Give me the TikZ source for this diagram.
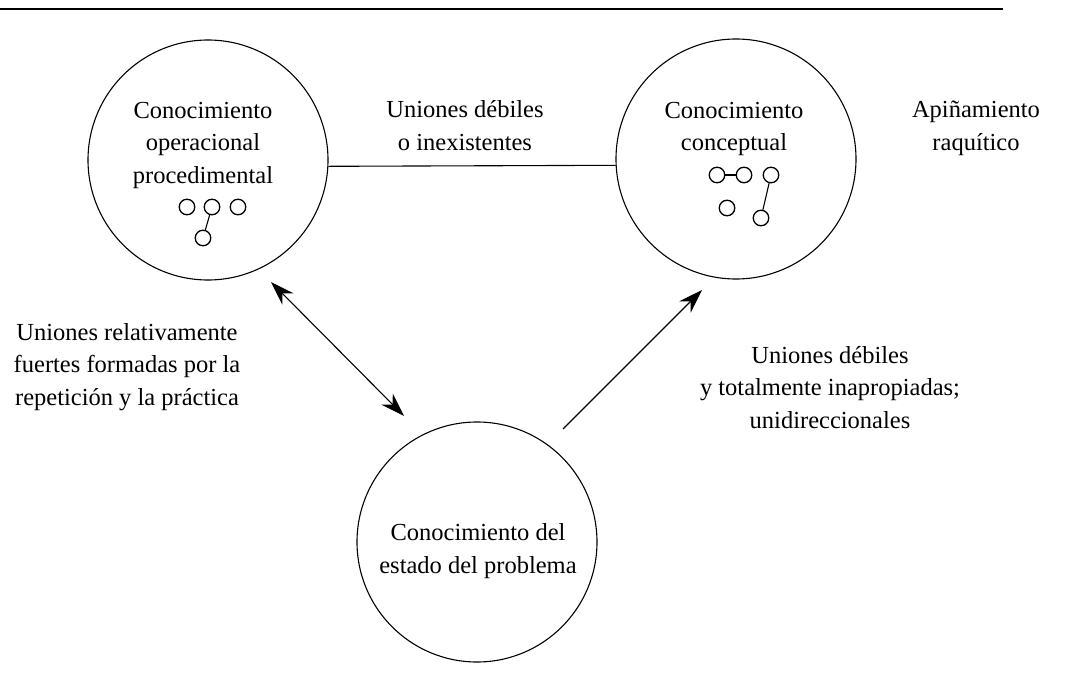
\documentclass[tikz,border=0pt]{standalone}
\usepackage{fontspec}
\setmainfont{Liberation Serif}
\usetikzlibrary{arrows.meta}
\begin{document}
\begin{tikzpicture}[x=1pt,y=-1pt,
  big/.style={circle,draw,line width=1.1pt,minimum size=240pt,inner sep=0pt},
  dot/.style={circle,draw,line width=1.3pt,minimum size=15.5pt,inner sep=0pt},
  lbl/.style={align=center,font=\fontsize{24.5}{32.5}\selectfont,inner sep=0pt,anchor=base},
  link/.style={line width=1.1pt},
  arr/.style={line width=1.1pt,-{Stealth[length=24pt,width=16pt,inset=8pt]}},
  darr/.style={line width=1.1pt,{Stealth[length=24pt,width=16pt,inset=8pt]}-{Stealth[length=24pt,width=16pt,inset=8pt]}}]
\useasboundingbox (0,0) rectangle (1066,690);
% top rule
\coordinate (r1) at (0,9);
\coordinate (r2) at (1003,9);
\draw[line width=2pt] (r1) -- (r2);
% big circles
\node[big] (cL) at (208,160) {};
\node[big] (cR) at (736,159) {};
\node[big] (cB) at (477,542) {};
% texts (base anchor = baseline of last line)
\node[lbl] (tL) at (203,183) {Conocimiento\\operacional\\procedimental};
\node[lbl] (tR) at (734,151) {Conocimiento\\conceptual};
\node[lbl] (tB) at (478,573) {Conocimiento del\\estado del problema};
\node[lbl] (tTop) at (465,150) {Uniones débiles\\o inexistentes};
\node[lbl] (tApi) at (976,150) {Apiñamiento\\raquítico};
\node[lbl] (tLeft) at (127,405) {Uniones relativamente\\fuertes formadas por la\\repetición y la práctica};
\node[lbl] (tRight) at (830,428) {Uniones débiles\\y totalmente inapropiadas;\\unidireccionales};
% small circles, left
\node[dot] (l1) at (187,207) {};
\node[dot] (l2) at (212,207) {};
\node[dot] (l3) at (238,207) {};
\node[dot] (l4) at (203,238) {};
\draw[link] (l2) -- (l4);
% small circles, right
\node[dot] (k1) at (717,175) {};
\node[dot] (k2) at (744,175) {};
\node[dot] (k3) at (771,175) {};
\node[dot] (k4) at (727,208) {};
\node[dot] (k5) at (761,218) {};
\draw[link] (k1) -- (k2);
\draw[link] (k3) -- (k5);
% connectors
\draw[link] (cL.-3) -- (cR.183);
\coordinate (a1) at (271,282);
\coordinate (a2) at (404,416);
\draw[darr] (a1) -- (a2);
\coordinate (b1) at (563,429);
\coordinate (b2) at (702,290);
\draw[arr] (b1) -- (b2);
\end{tikzpicture}
\end{document}
